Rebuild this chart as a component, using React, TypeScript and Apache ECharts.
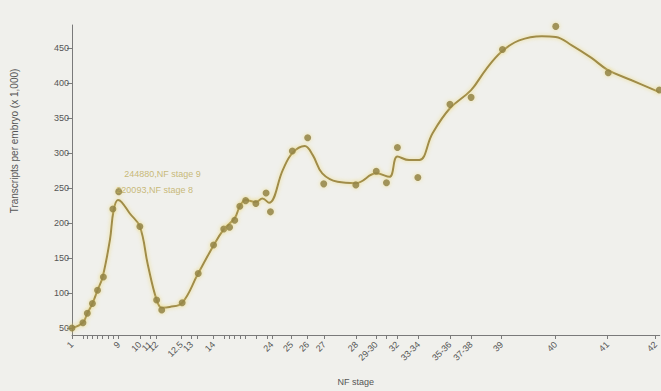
import React, { useEffect, useRef } from "react";
import * as echarts from "echarts";

// x values: relative developmental time positions of NF stages
const tickValues = [0, 1.5, 2.1, 2.8, 3.5, 4.2, 4.9, 5.6, 6.4, 9.3, 10.7, 11.6, 15.0, 16.4, 17.2, 19.4, 20.9, 21.6, 22.3, 23.0, 23.7, 25.3, 26.7, 27.4, 30.1, 32.3, 34.6, 39.0, 41.7, 43.1, 44.6, 47.5, 51.8, 54.7, 58.9, 66.3, 73.4, 80.0];
const tickLabels = ["1", "", "", "", "", "", "", "", "9", "10", "11", "12", "12.5", "13", "", "14", "", "", "", "", "", "", "", "24", "25", "26", "27", "28", "29-30", "", "32", "33-34", "35-36", "37-38", "39", "40", "41", "42"];

const pointX = [0, 1.5, 2.1, 2.8, 3.5, 4.3, 5.6, 6.4, 9.3, 11.6, 12.3, 15.1, 17.3, 19.4, 20.8, 21.6, 22.3, 23.0, 23.8, 25.2, 26.6, 27.2, 30.2, 32.3, 34.5, 38.9, 41.7, 43.1, 44.6, 47.4, 51.8, 54.7, 59.0, 66.3, 73.5, 80.5];
const pointY = [50, 57.6, 71, 85, 104, 123, 220.093, 244.88, 195, 90, 75.7, 86, 128, 168.6, 191.4, 194, 204, 224, 232, 228, 243, 216, 303, 322, 256, 254.5, 274, 257.6, 308, 265, 369.6, 379.6, 448, 481, 414.7, 390];

const fitX = [0, 1.5, 2.1, 2.8, 3.5, 4.2, 5.2, 5.7, 6.3, 6.8, 7.9, 9.3, 10.4, 11.6, 12.3, 13.4, 15.1, 17.2, 19.4, 20.8, 22.3, 23.0, 23.8, 25.2, 26.1, 27.0, 28.9, 30.2, 31.9, 33.0, 34.3, 36.4, 38.9, 41.7, 43.5, 44.6, 46.2, 47.6, 49.4, 51.8, 54.7, 56.7, 58.9, 61.3, 64.4, 66.3, 68.5, 71.2, 73.4, 76.7, 80.5];
const fitY = [50, 58, 71, 85, 104, 123, 176, 218, 233, 230, 214, 195, 140, 90, 79, 80, 86, 126, 168, 191, 207, 224, 233, 230, 235, 229, 276, 300, 310, 297, 271, 259, 257, 271, 266, 295, 290, 290, 328, 364, 390, 419, 445, 461, 467, 466, 454, 436, 419, 404, 387];

const yTicks = [50, 100, 150, 200, 250, 300, 350, 400, 450];

const labelFor = (v: number) => {
  let best = -1;
  let bd = 1e9;
  tickValues.forEach((t, i) => {
    const d = Math.abs(t - v);
    if (d < bd) { bd = d; best = i; }
  });
  return bd < 0.05 ? tickLabels[best] : "";
};

export default function App() {
  const ref = useRef<HTMLDivElement>(null);
  useEffect(() => {
    if (!ref.current) return;
    const chart = echarts.init(ref.current, undefined, { renderer: "svg" });
    const points = pointX.map((x, i) => {
      const item: any = { value: [x, pointY[i]] };
      if (i === 7) {
        item.label = { show: true, formatter: "244880,NF stage 9", position: "right", offset: [-3, -18] };
      }
      if (i === 6) {
        item.label = { show: true, formatter: "220093,NF stage 8", position: "right", offset: [-5, -19] };
      }
      return item;
    });
    chart.setOption({
      animation: false,
      backgroundColor: "#f0f0ec",
      textStyle: { fontFamily: "Liberation Sans, Arial, sans-serif" },
      grid: { left: 72, right: 0, top: 25, bottom: 56 },
      xAxis: {
        type: "value",
        min: 0,
        max: 80.55,
        name: "NF stage",
        nameLocation: "middle",
        nameGap: 42,
        nameTextStyle: { color: "#555", fontSize: 9, padding: [0, 20, 0, 0] },
        axisLine: { lineStyle: { color: "#7a7a7a", width: 1 } },
        axisTick: { show: true, length: 4, customValues: tickValues, lineStyle: { color: "#7a7a7a" } },
        axisLabel: {
          customValues: tickValues,
          formatter: (v: number) => labelFor(v),
          rotate: 45,
          fontSize: 9,
          color: "#555",
          margin: 8,
          hideOverlap: false,
        },
        splitLine: { show: false },
      },
      yAxis: {
        type: "value",
        min: 40,
        max: 483,
        axisLine: { show: true, lineStyle: { color: "#7a7a7a", width: 1 } },
        axisTick: { show: true, length: 5, customValues: yTicks, lineStyle: { color: "#7a7a7a" } },
        axisLabel: { customValues: yTicks, fontSize: 9, color: "#555", margin: 3 },
        splitLine: { show: false },
      },
      graphic: [
        {
          type: "text",
          x: 14,
          y: 141,
          rotation: Math.PI / 2,
          style: {
            text: "Transcripts per embryo (x 1,000)",
            fill: "#555",
            fontSize: 10,
            fontFamily: "Liberation Sans, Arial, sans-serif",
            align: "center",
            verticalAlign: "middle",
          },
        },
      ],
      series: [
        {
          type: "line",
          data: fitX.map((x, i) => [x, fitY[i]]),
          smooth: 0.4,
          showSymbol: false,
          lineStyle: { color: "#a08c48", width: 2, shadowColor: "rgba(235,215,120,0.9)", shadowBlur: 4 },
          z: 2,
        },
        {
          type: "scatter",
          data: points,
          symbolSize: 7,
          itemStyle: { color: "#8a7b3e", shadowColor: "rgba(235,215,120,0.9)", shadowBlur: 4 },
          label: { show: false, color: "#bcaa58", fontSize: 9, align: "left" },
          z: 3,
        },
      ],
    });
    return () => chart.dispose();
  }, []);
  return <div ref={ref} style={{ position: "fixed", left: 0, top: 0, width: 661, height: 391 }} />;
}
